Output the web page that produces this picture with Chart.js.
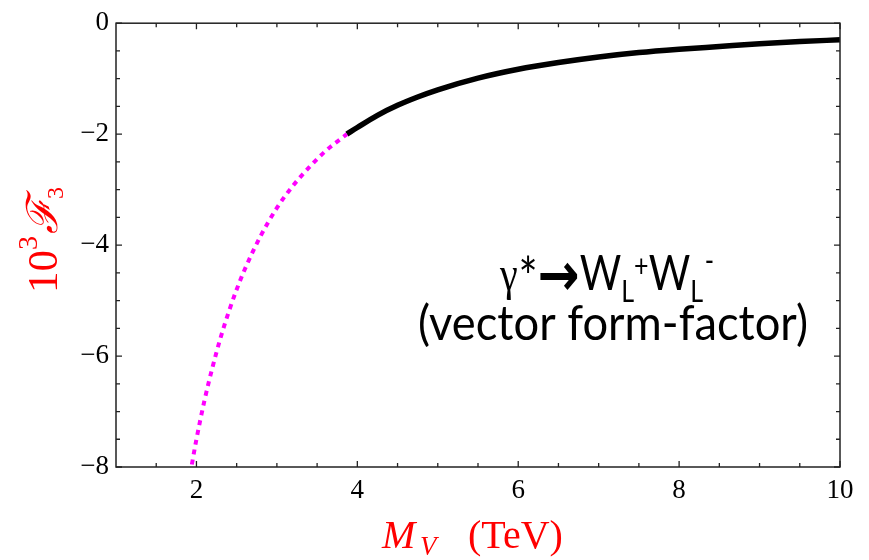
<!DOCTYPE html>
<html>
<head>
<meta charset="utf-8">
<script src="https://cdn.jsdelivr.net/npm/chart.js@4/dist/chart.umd.min.js"></script>
<style>
  body { margin: 0; background: #fff; }
  #wrap { width: 869px; height: 560px; }
</style>
</head>
<body>
<div id="wrap"><canvas id="ffChart" width="869" height="560"></canvas></div>
<script>
// valeurs : M_V (TeV) et 10^3 F3
var lowMass = [1.9, 2.0, 2.1, 2.2, 2.3, 2.4, 2.5, 2.6, 2.8, 3.0, 3.2, 3.4, 3.6, 3.87];
var lowF3 = [-8.31, -7.5, -6.8, -6.2, -5.67, -5.21, -4.8, -4.44, -3.83, -3.33, -2.93, -2.6, -2.31, -2.0];
var highMass = [3.87, 4.0, 4.25, 4.5, 4.75, 5.0, 5.5, 6.0, 6.5, 7.0, 7.5, 8.0, 8.5, 9.0, 9.5, 10.0];
var highF3 = [-2.0, -1.88, -1.66, -1.48, -1.33, -1.2, -0.99, -0.83, -0.71, -0.61, -0.53, -0.47, -0.42, -0.37, -0.33, -0.30];

// graduations
var xMajor = [2, 4, 6, 8, 10];
var xMinor = [1.5, 2.5, 3, 3.5, 4.5, 5, 5.5, 6.5, 7, 7.5, 8.5, 9, 9.5];
var yMajor = [0, -2, -4, -6, -8];
var yMinor = [-0.5, -1, -1.5, -2.5, -3, -3.5, -4.5, -5, -5.5, -6.5, -7, -7.5];

function toPoints(xs, ys) {
	return xs.map(function (x, i) { return {x: x, y: ys[i]}; });
}

// dessine une suite de morceaux de texte, compressee pour tenir dans une largeur
function drawRuns(ctx, runs, x, y, targetWidth) {
	var total = 0;
	runs.forEach(function (r) {
		ctx.font = r.font;
		r.w = ctx.measureText(r.text).width;
		total += r.w + (r.gap || 0);
	});
	var sx = targetWidth ? targetWidth / total : 1;
	ctx.save();
	ctx.translate(x, y);
	ctx.scale(sx, 1);
	var cx = 0;
	runs.forEach(function (r) {
		ctx.font = r.font;
		ctx.fillText(r.text, cx, r.dy || 0);
		cx += r.w + (r.gap || 0);
	});
	ctx.restore();
}

var framePlugin = {
	id: 'frame',
	afterDraw: function (chart) {
		var ctx = chart.ctx;
		var a = chart.chartArea;
		var xs = chart.scales.x, ys = chart.scales.y;
		ctx.save();
		ctx.strokeStyle = '#222';
		ctx.lineWidth = 1.5;
		ctx.strokeRect(a.left, a.top, a.right - a.left, a.bottom - a.top);
		ctx.lineWidth = 1.3;
		ctx.beginPath();
		function xTick(v, len) {
			var px = xs.getPixelForValue(v);
			ctx.moveTo(px, a.bottom); ctx.lineTo(px, a.bottom - len);
			ctx.moveTo(px, a.top); ctx.lineTo(px, a.top + len);
		}
		function yTick(v, len) {
			var py = ys.getPixelForValue(v);
			ctx.moveTo(a.left, py); ctx.lineTo(a.left + len, py);
			ctx.moveTo(a.right, py); ctx.lineTo(a.right - len, py);
		}
		xMajor.forEach(function (v) { xTick(v, 6); });
		xMinor.forEach(function (v) { xTick(v, 4); });
		yMajor.forEach(function (v) { yTick(v, 6); });
		yMinor.forEach(function (v) { yTick(v, 4); });
		ctx.stroke();

		// titre de l'axe x
		ctx.fillStyle = '#ff0000';
		ctx.textBaseline = 'alphabetic';
		ctx.font = 'italic 40px "Liberation Serif"';
		ctx.fillText('M', 382, 548);
		ctx.font = 'italic 27px "Liberation Serif"';
		ctx.fillText('V', 420, 555);
		ctx.font = '40px "Liberation Serif"';
		ctx.fillText('(TeV)', 468, 548);

		// titre de l'axe y
		ctx.save();
		ctx.translate(57, 293);
		ctx.rotate(-Math.PI / 2);
		drawRuns(ctx, [
			{text: '10', font: '43px "Liberation Serif"'},
			{text: '3', font: '28px "Liberation Serif"', dy: -20, gap: 2},
			{text: '\u2131', font: 'italic 43px "DejaVu Serif"'},
			{text: '3', font: '24px "Liberation Serif"', dy: 6}
		], 0, 0, 106);
		ctx.restore();

		// annotation
		ctx.fillStyle = '#000';
		drawRuns(ctx, [
			{text: '\u03b3', font: '48px "Liberation Serif"', gap: 1},
			{text: '*', font: '54px Lato', dy: 6},
			{text: '\u2192', font: 'bold 60px "DejaVu Sans"', dy: 5},
			{text: 'W', font: '48px Lato'},
			{text: 'L', font: '30px Lato', dy: 12},
			{text: '+', font: '30px Lato', dy: -13},
			{text: 'W', font: '48px Lato'},
			{text: 'L', font: '30px Lato', dy: 12, gap: 2},
			{text: '-', font: '30px Lato', dy: -19}
		], 500, 290, 214);
		drawRuns(ctx, [
			{text: '(vector form-factor)', font: '48px Lato'}
		], 418, 340, 390);
		ctx.restore();
	}
};

var ctx = document.getElementById('ffChart').getContext('2d');
var ffChart = new Chart(ctx, {
	type: 'scatter',
	data: {
		datasets: [{
			label: 'low',
			data: toPoints(lowMass, lowF3),
			showLine: true,
			borderColor: '#ff00ff',
			borderWidth: 4,
			borderDash: [5, 5],
			borderCapStyle: 'butt',
			pointRadius: 0,
			cubicInterpolationMode: 'monotone'
		}, {
			label: 'high',
			data: toPoints(highMass, highF3),
			showLine: true,
			borderColor: '#000',
			borderWidth: 5.5,
			pointRadius: 0,
			cubicInterpolationMode: 'monotone'
		}]
	},
	options: {
		responsive: false,
		animation: false,
		layout: {padding: {left: 0, top: 19, right: 29, bottom: 0}},
		plugins: {legend: {display: false}, tooltip: {enabled: false}},
		scales: {
			x: {
				type: 'linear',
				min: 1, max: 10,
				grid: {display: false, drawTicks: false},
				border: {display: false},
				ticks: {
					color: '#000',
					font: {family: 'Liberation Serif', size: 27},
					padding: 8,
					maxRotation: 0
				},
				afterBuildTicks: function (s) { s.ticks = xMajor.map(function (v) { return {value: v}; }); },
				afterFit: function (s) { s.height = 93; }
			},
			y: {
				type: 'linear',
				min: -8, max: 0,
				grid: {display: false, drawTicks: false},
				border: {display: false},
				ticks: {
					color: '#000',
					font: {family: 'Liberation Serif', size: 27},
					padding: 7,
					callback: function (v) { return String(v).replace('-', '\u2212'); }
				},
				afterBuildTicks: function (s) { s.ticks = yMajor.map(function (v) { return {value: v}; }); },
				afterFit: function (s) { s.width = 116; }
			}
		}
	},
	plugins: [framePlugin]
});
</script>
</body>
</html>
